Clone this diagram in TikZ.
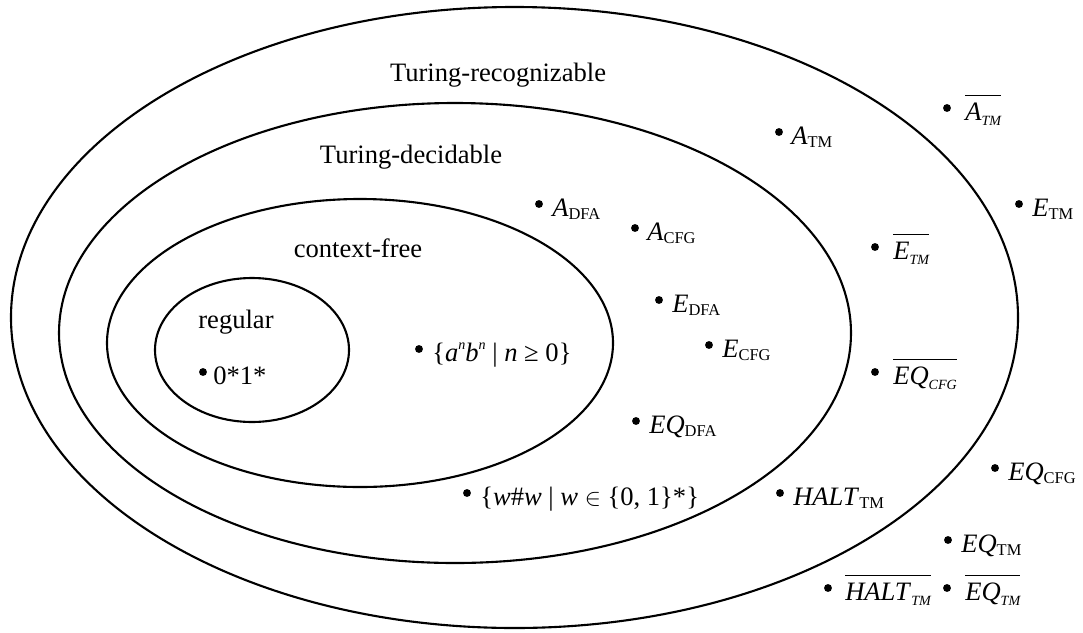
\documentclass[tikz,border=0pt]{standalone}
\usepackage{fontspec}
\setmainfont{Liberation Serif}
\usepackage{tikz}
\usetikzlibrary{calc}
\tikzset{
  setline/.style={draw=black,line width=1.5pt},
  dot/.style={circle,fill=black,inner sep=0pt,minimum size=5.6pt},
  lang/.style={anchor=base west,inner sep=0pt},
  title/.style={anchor=base,inner sep=0pt}
}
\newcommand{\lsub}[1]{\raisebox{-0.14em}{\fontsize{11.7pt}{12pt}\selectfont #1}}
\newcommand{\isub}[1]{\raisebox{-0.2em}{\fontsize{10pt}{10pt}\selectfont\itshape #1}}
\newcommand{\isup}[1]{\raisebox{0.45em}{\fontsize{10pt}{10pt}\selectfont\itshape #1}}
\newcommand{\co}[1]{$\overline{\rule{0pt}{0.86em}\hbox{#1}}$}
% bullet with a language name beside it
\newcommand{\langdot}[4][13]{%
  \node[dot] (#2) at (#3) {};
  \node[lang] (#2-l) at ($(#2)+(#1,12)$) {#4};}

\begin{document}
\begin{tikzpicture}[x=0.025cm,y=-0.025cm,font=\fontsize{18.9pt}{22pt}\selectfont]
\useasboundingbox (0,0) rectangle (1083,632);
% the four classes
\draw[setline] (514.5,317.5) ellipse [x radius=503.5,y radius=310.5];
\draw[setline] (455,333) ellipse [x radius=396,y radius=230];
\draw[setline] (360,343) ellipse [x radius=253,y radius=144];
\draw[setline] (252,350) ellipse [x radius=97,y radius=72];
\node[title] (recog) at (498,81) {Turing-recognizable};
\node[title] (decid) at (411,163) {Turing-decidable};
\node[title] (cfree) at (358,257) {context-free};
\node[title] (regul) at (236,328) {regular};
% languages
\langdot[10]{zo}{203,372}{0*1*}
\langdot{anbn}{419,349}{\{\textit{a}\isup{n}\textit{b}\isup{n} | \textit{n} ≥ 0\}}
\langdot{adfa}{539,204}{\textit{A}\lsub{DFA}}
\langdot[12]{acfg}{635,228}{\textit{A}\lsub{CFG}}
\langdot{edfa}{659,300}{\textit{E}\lsub{DFA}}
\langdot{ecfg}{709,345}{\textit{E}\lsub{CFG}}
\langdot{eqdfa}{636,421}{\textit{EQ}\lsub{DFA}}
\langdot{wsw}{467,493}{\{\textit{w}\#\textit{w} | \textit{w} $\in$ \{0, 1\}*\}}
\langdot{halt}{780,493}{\textit{HALT}\lsub{TM}}
\langdot[12]{atm}{779,132}{\textit{A}\lsub{TM}}
\langdot[18]{atmc}{947,108}{\co{\textit{A}\isub{TM}}}
\langdot{etm}{1019,204}{\textit{E}\lsub{TM}}
\langdot[18]{etmc}{875,247}{\co{\textit{E}\isub{TM}}}
\langdot[18]{eqcfgc}{875,372}{\co{\textit{EQ}\isub{CFG}}}
\langdot{eqcfg}{995,468}{\textit{EQ}\lsub{CFG}}
\langdot{eqtm}{948,540}{\textit{EQ}\lsub{TM}}
\langdot[17]{haltc}{828,588}{\co{\textit{HALT}\isub{TM}}}
\langdot[18]{eqtmc}{947,588}{\co{\textit{EQ}\isub{TM}}}
\end{tikzpicture}
\end{document}
